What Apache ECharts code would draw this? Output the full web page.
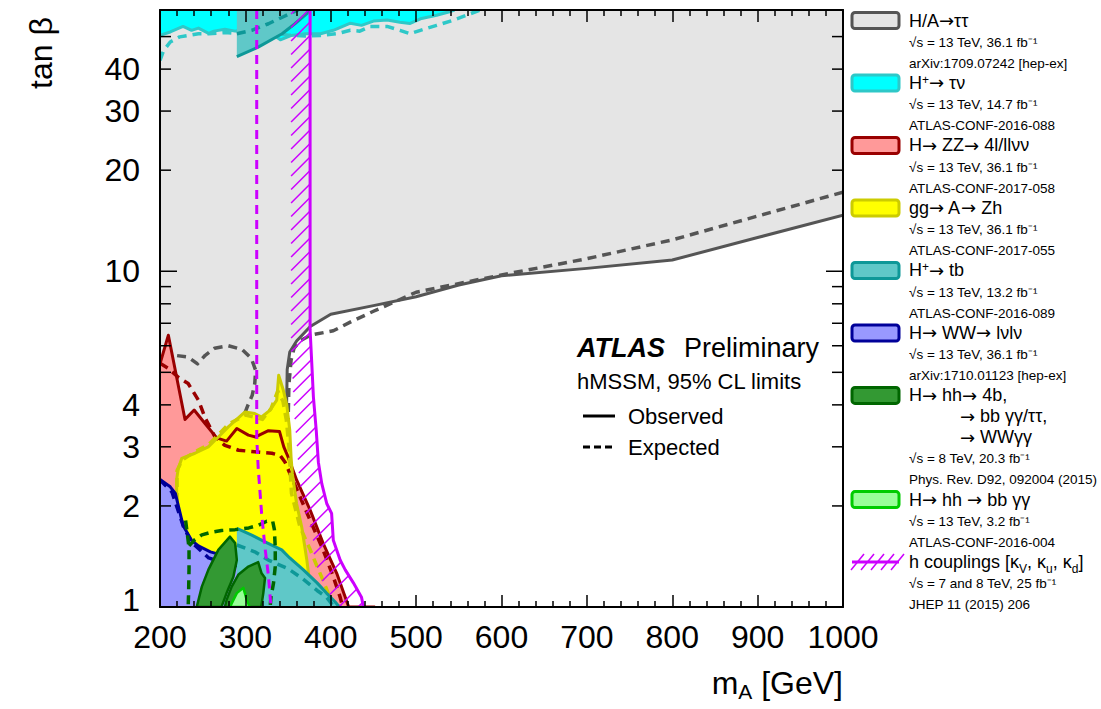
<!DOCTYPE html>
<html><head><meta charset="utf-8">
<script src="https://cdn.jsdelivr.net/npm/echarts@6/dist/echarts.min.js"></script>
<style>html,body{margin:0;padding:0;background:#fff}#c{width:1101px;height:709px}</style>
</head><body><div id="c"></div>
<script>
// ---------- axes ----------
const X_MIN = 200, X_MAX = 1000, X_STEP = 100;
const Y_MIN = 1, Y_MAX = 60;
const yTickValues = [1,2,3,4,5,6,7,8,9,10,20,30,40,50,60];
const yMajorTicks = [1,10];
const yTickLabels = [1,2,3,4,10,20,30,40];

// ---------- data: [mA (GeV), tan beta] ----------
// H/A -> tautau (36.1 fb-1)
const tautauObs = [[1000,14.7],[900,12.6],[800,10.8],[700,10.2],[600,9.7],[550,9.1],[500,8.4],[450,7.9],[400,7.45],[376,6.85],[360,6.2],[352,5.75],[349,5.1],[348,3.6],[348,1]];
const tautauExp = [[1000,17.2],[900,14.6],[800,12.4],[700,10.9],[600,9.75],[500,8.66],[450,7.6],[425,7.1],[403,6.65],[376,6.45],[364,6.2],[357,5.9],[353.5,5.43],[351,4.6],[350,3.5],[350,1]];
const tautauExpIsland = [[203,5.75],[217,5.62],[233,5.55],[244,5.3],[253,5.62],[264,5.9],[280,6.0],[296,5.85],[307,5.5],[312,5.07],[311,4.63],[308,4.27],[303,3.99],[298,3.7],[292,3.4]];
// H+ -> tau nu
const taunuObs = [[200,50.4],[212,51.6],[227,53.6],[237,52.2],[245,53],[257,51.1],[263,51.9],[276,52.6],[288,51.9],[311,53.2],[323,52.2],[331,51],[341,48.9],[354,50.4],[370,51],[388,51],[403,52.2],[423,54.8],[436,54],[450,55.6],[466,56],[481,55.2],[493,54.7],[505,56.5],[524,57.9],[538,59.2],[545,60]];
const taunuExp = [[200,42.5],[204,45.3],[212,48.2],[223,49.9],[233,50.4],[245,51],[257,51],[276,51.4],[292,51],[304,51.6],[319,51.8],[335,51.2],[350,50.5],[370,50.2],[388,50.4],[407,51],[423,52.2],[434,51.9],[446,53.6],[466,53.6],[481,52.2],[493,51],[505,52.2],[524,54],[544,56],[559,57.9],[575,60]];
// H+ -> tb (high and low tan beta)
const tbTopObs = [[290,43.6],[315,46.5],[343,51],[358,54.6],[372,58.5],[375,60]];
const tbTopExp = [[290,51],[307.5,52.2],[327,54.6],[344.5,57.3],[358,59.4],[362,60]];
const tbLowObs = [[290,1.715],[307.5,1.637],[323,1.564],[342.6,1.48],[352,1.40],[368,1.29],[384,1.18],[395,1.1],[405,1.037],[410,1.0]];
const tbLowExp = [[290,1.53],[311,1.46],[327,1.38],[350,1.3],[366,1.22],[384,1.12],[395,1.07],[404,1.0]];
// H -> ZZ
const zzObs = [[200,5.3],[209.8,6.45],[229.3,3.62],[240,3.86],[252.7,3.52],[266.4,3.19],[278,3.12],[290,3.4],[303.5,3.25],[312,3.21],[327,3.35],[340,3.33],[345,3.0],[350,2.8],[360,2.39],[376,1.94],[391,1.55],[407,1.26],[417,1.07],[421,1.0],[452,1.0]];
const zzExp = [[200,5.32],[210,5.13],[221,4.84],[233,4.63],[245,4.13],[253,3.65],[264.5,3.21],[276,3.03],[292,2.93],[311,2.9],[331,2.87],[340.6,2.83],[346.5,2.7],[364,2.13],[376,1.81],[391,1.48],[403,1.23],[411,1.07],[414,1.0]];
// gg -> A -> Zh
const zhObs = [[219.5,1],[219.5,2.4],[221.4,2.58],[225.4,2.77],[241,2.87],[256.6,3.0],[268.3,3.21],[280,3.44],[299.6,3.81],[311,3.77],[319,3.68],[329,3.86],[336.7,4.13],[339,4.9],[344.5,4.42],[348.5,4.0],[352,3.36],[353.5,2.8],[355,2.5],[360,2.03],[366,1.73],[372,1.38],[375.8,1.15],[377.8,1.0]];
const zhExp = [[220,1],[220,2.55],[226,2.74],[241,2.9],[257,3.05],[268,3.25],[280,3.5],[300,3.73],[320,3.62],[330,3.9],[338,4.4],[344,4.1],[348,3.6],[351,3.0],[354,2.18],[364,1.73],[376,1.48],[384,1.32],[391,1.2],[397,1.1],[401,1.0]];
// H -> WW
const wwObs = [[200,2.4],[212,2.28],[218,2.18],[227,1.75],[237,1.58],[245,1.52],[259,1.46],[276,1.42],[290,1.39],[301,1.32],[330,1.2],[370,1.08],[412,1.0]];
const wwExp = [[200,2.39],[214,2.2],[228,1.72],[237,1.56],[257,1.4],[272,1.36],[296,1.32],[330,1.17],[370,1.06],[408,1.0]];
// H -> hh (8 TeV)
const hh8Leaf1 = [[243,1.0],[249,1.15],[256.6,1.29],[268.3,1.48],[282,1.62],[288,1.55],[290,1.38],[286,1.23],[278,1.1],[272,1.0]];
const hh8Leaf2 = [[276,1.0],[278,1.05],[284,1.15],[292,1.25],[303.5,1.32],[315,1.36],[319,1.26],[323,1.22],[321,1.1],[318.5,1.0]];
const hh8ExpA = [[230,1.81],[232,1.65],[234,1.5],[234,1.3],[233.5,1.1],[233,1.0]];
const hh8ExpB = [[234,1.52],[240,1.58],[249,1.64],[260,1.67],[272,1.69],[288,1.7],[304,1.72],[315,1.75],[325,1.8],[332,1.8],[334,1.7],[335,1.5],[335,1.32],[333,1.18],[330,1.07],[329,1.0]];
// H -> hh -> bb gamma gamma (13 TeV)
const hh13Obs = [[282,1.0],[286,1.05],[290,1.1],[297.6,1.14],[301.6,1.05],[305,1.0]];
// h couplings
const hcoupObs = [[375.8,60],[375.8,6.7],[377.8,5.3],[379.7,4.22],[383,3.36],[385.5,2.7],[389.5,2.33],[395.4,2.03],[401,1.9],[403,1.58],[411,1.38],[417,1.29],[426.5,1.18],[436,1.07],[438.3,1.0]];
const hcoupExp = [[313.3,60],[313.3,3.2],[315,2.6],[319,1.9],[323,1.5],[327,1.24],[330,1.0]];

// ---------- legend text ----------
const legendEntries = [
  {title:'H/A→ττ', sub:['√s = 13 TeV, 36.1 fb⁻¹','arXiv:1709.07242 [hep-ex]']},
  {title:'H^+→ τν', sub:['√s = 13 TeV, 14.7 fb⁻¹','ATLAS-CONF-2016-088']},
  {title:'H→ ZZ→ 4l/llνν', sub:['√s = 13 TeV, 36.1 fb⁻¹','ATLAS-CONF-2017-058']},
  {title:'gg→ A→ Zh', sub:['√s = 13 TeV, 36.1 fb⁻¹','ATLAS-CONF-2017-055']},
  {title:'H^+→ tb', sub:['√s = 13 TeV, 13.2 fb⁻¹','ATLAS-CONF-2016-089']},
  {title:'H→ WW→ lνlν', sub:['√s = 13 TeV, 36.1 fb⁻¹','arXiv:1710.01123 [hep-ex]']},
  {title:'H→ hh→ 4b,', extra:['→ bb γγ/ττ,','→ WWγγ'], sub:['√s = 8 TeV, 20.3 fb⁻¹','Phys. Rev. D92, 092004 (2015)']},
  {title:'H→ hh → bb γγ', sub:['√s = 13 TeV, 3.2 fb⁻¹','ATLAS-CONF-2016-004']},
  {title:'h couplings [κ_V, κ_u, κ_d]', sub:['√s = 7 and 8 TeV, 25 fb⁻¹','JHEP 11 (2015) 206']}
];

// ---------- styles ----------
const FONT = '"Liberation Sans", Arial, Helvetica, sans-serif';
const ARROW_FONT = '"DejaVu Sans", sans-serif';
const C = {
  greyFill:'#e5e5e5', greyLine:'#555555',
  cyanFill:'#00ffff', cyanLine:'#2ec8c8',
  tealFill:'#5fc8c8', tealLine:'#0e9898',
  redFill:'#ff9999', redLine:'#990000',
  yelFill:'#ffff00', yelLine:'#cccc00',
  bluFill:'#9999ff', bluLine:'#000099',
  dgFill:'#339933', dgLine:'#006600',
  lgFill:'#99ff99', lgLine:'#00cc00',
  mag:'#cc00ff'
};
const legendStyles = [
  {fill:C.greyFill, stroke:C.greyLine}, {fill:C.cyanFill, stroke:C.cyanLine},
  {fill:C.redFill, stroke:C.redLine}, {fill:C.yelFill, stroke:C.yelLine},
  {fill:C.tealFill, stroke:C.tealLine}, {fill:C.bluFill, stroke:C.bluLine},
  {fill:C.dgFill, stroke:C.dgLine}, {fill:C.lgFill, stroke:C.lgLine}, {hatch:true}
];
const LW = 3, DLW = 3.5, DASH = [9,6];

const chart = echarts.init(document.getElementById('c'), null, {renderer:'svg', width:1101, height:709});

let zc = 2;
function custom(name, data, build, clip) {
  return {
    type:'custom', name, z: zc++, clip: clip !== false, silent:true, animation:false,
    coordinateSystem:'cartesian2d', xAxisIndex:0, yAxisIndex:0,
    data, encode:{x:0, y:1},
    renderItem(params, api) {
      if (params.dataIndex !== 0) return null;
      const pix = data.map(p => api.coord(p));
      return build(pix, api);
    }
  };
}
function fillS(name, poly, fill) {
  return custom(name, poly, pix => ({type:'polygon', shape:{points:pix}, style:{fill, stroke:null}}));
}
function lineS(name, pts, color, dashed, lw) {
  return custom(name, pts, pix => ({type:'polyline', shape:{points:pix},
    style:{fill:null, stroke:color, lineWidth:lw || (dashed ? DLW : LW), lineDash: dashed ? DASH : null, lineJoin:'round'}}));
}
function polyS(name, pts, fill, stroke) {
  return custom(name, pts, pix => ({type:'polygon', shape:{points:pix}, style:{fill, stroke, lineWidth:2.5, lineJoin:'round'}}));
}
function hatchS(name, pts) {
  return custom(name, pts, (pix, api) => {
    const top = api.coord([X_MIN, Y_MAX])[1], bot = api.coord([X_MIN, Y_MIN])[1];
    const W = 19, STEP = 13.5;
    const xAt = y => {
      if (y <= pix[0][1]) return pix[0][0];
      for (let i = 0; i < pix.length - 1; i++) {
        const a = pix[i], b = pix[i+1];
        if (y >= a[1] && y <= b[1]) { const f = b[1] === a[1] ? 0 : (y - a[1]) / (b[1] - a[1]); return a[0] + f * (b[0] - a[0]); }
      }
      return pix[pix.length-1][0];
    };
    const kids = [];
    for (let yr = top - W + 4; yr <= bot; yr += STEP) {
      const xr = xAt(Math.max(yr, top));
      let x1 = xr, y1 = yr, x2 = xr - W, y2 = yr + W;
      if (y1 < top) { const d = top - y1; x1 -= d; y1 = top; }
      if (y2 > bot) { const d = y2 - bot; x2 += d; y2 = bot; }
      if (y2 <= y1) continue;
      kids.push({type:'line', shape:{x1, y1, x2, y2}, style:{stroke:C.mag, lineWidth:1.5}});
    }
    return {type:'group', children:kids};
  });
}

const series = [
  fillS('tautau fill', [[X_MIN,Y_MAX],[X_MAX,Y_MAX], ...tautauObs, [X_MIN,Y_MIN]], C.greyFill),
  lineS('tautau obs', tautauObs, C.greyLine, false),
  lineS('tautau exp', tautauExp, C.greyLine, true),
  lineS('tautau exp island', tautauExpIsland, C.greyLine, true),
  fillS('taunu fill', [[X_MIN,Y_MAX], ...taunuObs], C.cyanFill),
  lineS('taunu obs', taunuObs, C.cyanLine, false),
  lineS('taunu exp', taunuExp, C.cyanLine, true),
  fillS('tb top fill', [[tbTopObs[0][0],Y_MAX], ...tbTopObs], C.tealFill),
  lineS('tb top obs', tbTopObs, C.tealLine, false),
  lineS('tb top exp', tbTopExp, C.tealLine, true),
  fillS('ZZ fill', [[X_MIN,Y_MIN], ...zzObs], C.redFill),
  fillS('Zh fill', zhObs, C.yelFill),
  lineS('ZZ obs', zzObs, C.redLine, false),
  lineS('ZZ exp', zzExp, C.redLine, true),
  lineS('Zh obs', zhObs, C.yelLine, false),
  lineS('Zh exp', zhExp, C.yelLine, true),
  fillS('WW fill', [[X_MIN,Y_MIN], ...wwObs], C.bluFill),
  lineS('WW obs', wwObs, C.bluLine, false),
  lineS('WW exp', wwExp, C.bluLine, true),
  fillS('tb low fill', [[tbLowObs[0][0],Y_MIN], ...tbLowObs], C.tealFill),
  lineS('tb low obs', tbLowObs, C.tealLine, false),
  lineS('tb low exp', tbLowExp, C.tealLine, true),
  lineS('hh8 exp A', hh8ExpA, C.dgLine, true),
  lineS('hh8 exp B', hh8ExpB, C.dgLine, true),
  polyS('hh8 leaf 1', hh8Leaf1, C.dgFill, C.dgLine),
  polyS('hh8 leaf 2', hh8Leaf2, C.dgFill, C.dgLine),
  polyS('hh13', hh13Obs, C.lgFill, C.lgLine),
  hatchS('hcoup hatch', hcoupObs),
  lineS('hcoup obs', hcoupObs, C.mag, false, 3),
  lineS('hcoup exp', hcoupExp, C.mag, true, 3)
];

series.push({
  type:'custom', name:'y ticks', z:60, clip:false, silent:true, animation:false,
  coordinateSystem:'cartesian2d', xAxisIndex:0, yAxisIndex:0,
  data: yTickValues.map(v => [X_MIN, v]), encode:{x:0, y:1},
  renderItem(params, api) {
    const v = yTickValues[params.dataIndex];
    const pL = api.coord([X_MIN, v]), pR = api.coord([X_MAX, v]);
    const len = yMajorTicks.includes(v) ? 17 : 11;
    const kids = [
      {type:'line', shape:{x1:pL[0], y1:pL[1], x2:pL[0]+len, y2:pL[1]}, style:{stroke:'#000', lineWidth:1.5}},
      {type:'line', shape:{x1:pR[0], y1:pR[1], x2:pR[0]-len, y2:pR[1]}, style:{stroke:'#000', lineWidth:1.5}}
    ];
    if (yTickLabels.includes(v)) {
      kids.push({type:'text', x:pL[0]-20, y:pL[1] - (v === Y_MIN ? 7 : 0),
        style:{text:String(v), fill:'#000', fontSize:32, fontFamily:FONT,
          textAlign:'right', textVerticalAlign:'middle', align:'right', verticalAlign:'middle'}});
    }
    return {type:'group', children:kids};
  }
});

const axisCommon = {
  min:X_MIN, max:X_MAX, interval:X_STEP, type:'value', z:60,
  axisLine:{show:true, onZero:false, lineStyle:{color:'#000', width:2}},
  axisTick:{show:true, inside:true, length:12, lineStyle:{color:'#000', width:1.5}},
  minorTick:{show:true, splitNumber:5, length:6, lineStyle:{color:'#000', width:1.5}},
  splitLine:{show:false}
};
const yCommon = {
  type:'log', logBase:10, min:Y_MIN, max:Y_MAX, z:60,
  axisLine:{show:true, onZero:false, lineStyle:{color:'#000', width:2}},
  axisTick:{show:false}, axisLabel:{show:false}, minorTick:{show:false}, splitLine:{show:false}
};

// ---------- graphic ----------
const graphic = [];
function txt(x, y, text, size, extra) {
  graphic.push(Object.assign({type:'text', x, y, z:100, silent:true,
    style:Object.assign({text, fill:'#000', fontSize:size, fontFamily:FONT,
      textAlign:'left', textVerticalAlign:'middle', align:'left', verticalAlign:'middle'}, (extra||{}).style||{})},
    (extra||{}).el||{}));
}
// rich markup: "→" in DejaVu, "^x" superscript, "_x" subscript
function richify(s) {
  let out = '', buf = '';
  const flush = () => { if (buf) { out += '{t|' + buf + '}'; buf = ''; } };
  for (let i = 0; i < s.length; i++) {
    const ch = s[i];
    if (ch === '→') { flush(); out += '{a|→}'; }
    else if (ch === '^') { flush(); out += '{p|' + s[++i] + '}'; }
    else if (ch === '_') { flush(); out += '{s|' + s[++i] + '}'; }
    else buf += ch;
  }
  flush();
  return out;
}
function richBase(size) {
  return {
    t:{fontSize:size, fontFamily:FONT, fill:'#000'},
    a:{fontSize:size, fontFamily:ARROW_FONT, fill:'#000'},
    p:{fontSize:Math.round(size*0.65), fontFamily:FONT, fill:'#000', verticalAlign:'top'},
    s:{fontSize:Math.round(size*0.65), fontFamily:FONT, fill:'#000', verticalAlign:'bottom', padding:[0,0,-4,0]}
  };
}
function rtxt(x, y, s, size) {
  graphic.push({type:'text', x, y, z:100, silent:true, style:{text:richify(s), rich:richBase(size),
    textAlign:'left', align:'left', textVerticalAlign:'middle', verticalAlign:'middle'}});
}
txt(41, 53, 'tan β', 32, {el:{rotation:Math.PI/2}, style:{textAlign:'center', align:'center'}});
graphic.push({type:'text', x:843, y:683, z:100, silent:true, style:{
  text:'{n|m}{s|A}{n| [GeV]}', textAlign:'right', align:'right', textVerticalAlign:'middle', verticalAlign:'middle',
  rich:{n:{fontSize:32, fontFamily:FONT, fill:'#000'}, s:{fontSize:21, fontFamily:FONT, fill:'#000', verticalAlign:'bottom', padding:[0,0,-3,0]}}}});
txt(577, 348, 'ATLAS', 27, {style:{fontWeight:'bold', fontStyle:'italic'}});
txt(684, 348, 'Preliminary', 27);
txt(577, 381, 'hMSSM, 95% CL limits', 22);
graphic.push({type:'line', z:100, shape:{x1:583, y1:416, x2:615, y2:416}, style:{stroke:'#000', lineWidth:3}});
txt(628, 416, 'Observed', 22);
graphic.push({type:'line', z:100, shape:{x1:583, y1:447, x2:615, y2:447}, style:{stroke:'#000', lineWidth:3, lineDash:[7,4]}});
txt(628, 447, 'Expected', 22);

(function(){
  const LH = 20.83;
  let y = 20.5;
  legendEntries.forEach((e, i) => {
    const st = legendStyles[i];
    if (st.hatch) {
      graphic.push({type:'line', z:100, shape:{x1:852, y1:y, x2:899, y2:y}, style:{stroke:C.mag, lineWidth:3}});
      for (let k = 0; k < 5; k++) {
        const x0 = 851 + k * 10;
        graphic.push({type:'line', z:100, shape:{x1:x0, y1:y+8, x2:x0+13, y2:y-8}, style:{stroke:C.mag, lineWidth:1.5}});
      }
    } else {
      graphic.push({type:'rect', z:100, shape:{x:852, y:y-8, width:47, height:16, r:3},
        style:{fill:st.fill, stroke:st.stroke, lineWidth:3}});
    }
    rtxt(909, y, e.title, 18);
    y += LH;
    (e.extra || []).forEach(t => { rtxt(960, y, t, 18); y += LH; });
    e.sub.forEach(t => { txt(909, y + 1, t, 13.5); y += LH; });
  });
})();

chart.setOption({
  animation:false,
  backgroundColor:'#fff',
  grid:{left:160, right:258, top:10, bottom:102, containLabel:false},
  xAxis:[
    Object.assign({}, axisCommon, {position:'bottom',
      axisLabel:{show:true, margin:14, fontSize:32, fontFamily:FONT, color:'#000', showMinLabel:true, showMaxLabel:true,
        formatter: v => String(v)}}),
    Object.assign({}, axisCommon, {position:'top', axisLabel:{show:false}})
  ],
  yAxis:[
    Object.assign({}, yCommon, {position:'left'}),
    Object.assign({}, yCommon, {position:'right'})
  ],
  series,
  graphic
});
</script></body></html>
